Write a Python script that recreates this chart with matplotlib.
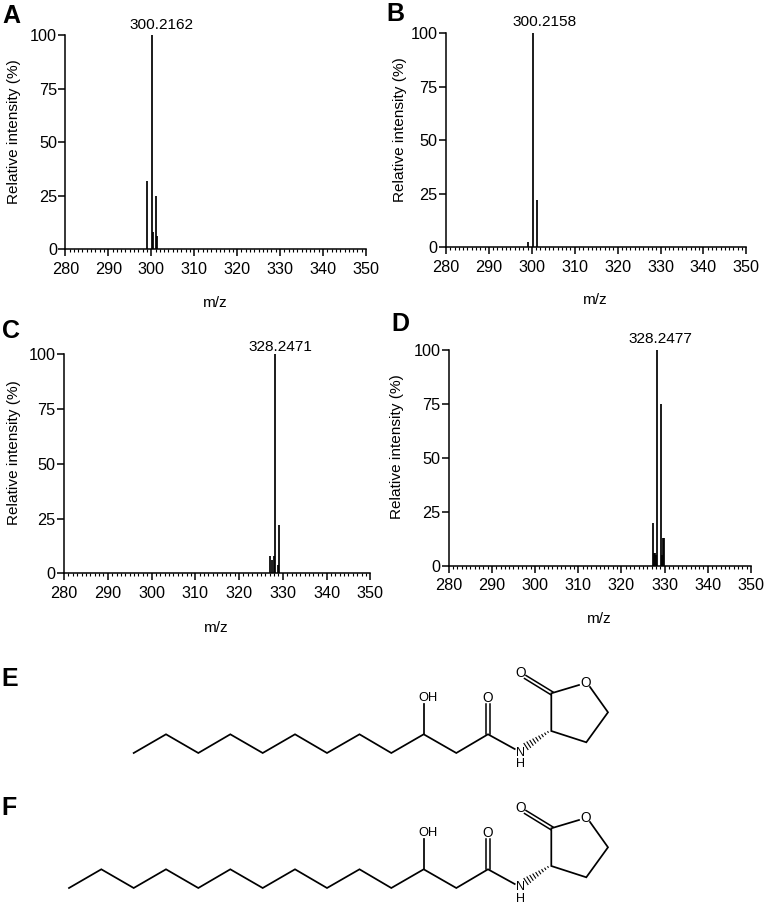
import matplotlib
matplotlib.use('Agg')
import matplotlib.pyplot as plt

plt.rcParams['font.family'] = ['Liberation Sans', 'DejaVu Sans']

W, H = 766, 906

# m/z, relative intensity
mz_a = [299.1, 300.2, 300.5, 301.1, 301.3]
int_a = [32, 100, 8, 25, 6]
mz_b = [299.1, 300.2, 301.1]
int_b = [2.5, 100, 22]
mz_c = [327.1, 327.45, 328.0, 328.3, 329.2, 329.0]
int_c = [8, 6, 8, 100, 22, 4]
mz_d = [327.2, 327.6, 327.85, 328.0, 328.25, 329.1, 329.35, 329.6, 329.8]
int_d = [20, 6, 6, 5, 100, 75, 5, 13, 13]

labels = ['300.2162', '300.2158', '328.2471', '328.2477']
panels = ['A', 'B', 'C', 'D']
x_ticks = [280, 290, 300, 310, 320, 330, 340, 350]
y_ticks = [0, 25, 50, 75, 100]

# axes frames in picture pixels: left, right, top (100), bottom (0)
boxes = [(65.3, 366, 35, 249.3), (446, 746.3, 33.3, 247.3),
         (64, 370.3, 354.3, 573.3), (448.7, 751, 350, 566)]
spectra = [(mz_a, int_a), (mz_b, int_b), (mz_c, int_c), (mz_d, int_d)]
panel_pos = [(2, 16), (386, 14), (2, 331), (391, 324)]
# peak label offset from the top of the peak, pixels
label_off = [(9.7, -10.2), (12, -11.6), (4.7, -7.6), (3.7, -11)]
ylabel_pos = [(14, 131.7), (400, 130), (14, 453), (397, 446.7)]
xlabel_pos = [(215, 302.7), (595.7, 300), (216.7, 628), (599, 619.3)]

fig = plt.figure(figsize=(W / 100, H / 100), dpi=100)

for box, (mz, inten), lab, off in zip(boxes, spectra, labels, label_off):
    l, r, t, b = box
    ax = fig.add_axes([l / W, 1 - b / H, (r - l) / W, (b - t) / H])
    ax.vlines(mz, 0, inten, color='black', lw=1.25)
    ax.set_xlim(280, 350)
    ax.set_ylim(0, 100)
    ax.spines['top'].set_visible(False)
    ax.spines['right'].set_visible(False)
    ax.spines['left'].set_linewidth(1.1)
    ax.spines['bottom'].set_linewidth(1.1)
    ax.set_xticks(x_ticks)
    ax.set_yticks(y_ticks)
    ax.set_xticks(range(280, 351), minor=True)
    ax.tick_params(axis='both', which='major', labelsize=11.7, length=5, width=1.1)
    ax.tick_params(axis='x', which='major', pad=4)
    ax.tick_params(axis='y', which='major', pad=1)
    ax.tick_params(axis='x', which='minor', length=2.4, width=0.8)
    ax.annotate(lab, (mz[inten.index(100)], 100), xytext=(off[0] * 0.72, -off[1] * 0.72),
                textcoords='offset points', fontsize=11.1, ha='center', va='center',
                annotation_clip=False)

# overlay in pixel coordinates for panel letters and the two structures
ov = fig.add_axes([0, 0, 1, 1])
ov.set_xlim(0, W)
ov.set_ylim(H, 0)
ov.axis('off')
ov.patch.set_alpha(0)

for (px, py), p in zip(panel_pos, panels):
    ov.text(px, py, p, fontsize=18, fontweight='bold', ha='left', va='center')
ov.text(1, 679, 'E', fontsize=18, fontweight='bold', ha='left', va='center')
ov.text(1, 808, 'F', fontsize=18, fontweight='bold', ha='left', va='center')

for (px, py) in ylabel_pos:
    ov.text(px, py, 'Relative intensity (%)', fontsize=11.1, rotation=90, ha='center', va='center')
for (px, py) in xlabel_pos:
    ov.text(px, py, 'm/z', fontsize=11.1, ha='center', va='center')

chain_x_e = [133.7, 166, 198.3, 230.3, 262.7, 295, 327, 359.5, 391.3, 423.7, 456.3, 488, 514.7]
chain_x_f = [69, 101.3] + chain_x_e


def molecule(chain_x, dy):
    low, high = 753 + dy, 734.3 + dy
    ys = [(low if i % 2 == 0 else high) for i in range(len(chain_x))]
    ys[-1] = 749 + dy
    ov.plot(chain_x, ys, color='black', lw=1.25, solid_joinstyle='miter')
    # hydroxyl
    ov.plot([423.7, 423.7], [high, 704 + dy], color='black', lw=1.25)
    ov.text(428, 697.7 + dy, 'OH', fontsize=9.3, ha='center', va='center')
    # amide C=O
    ov.plot([486.3, 486.3], [high, 704 + dy], color='black', lw=1.1)
    ov.plot([489.7, 489.7], [high, 704 + dy], color='black', lw=1.1)
    ov.text(488, 697.7 + dy, 'O', fontsize=9.8, ha='center', va='center')
    ov.text(520.5, 752.5 + dy, 'N', fontsize=9, ha='center', va='center')
    ov.text(520.5, 764 + dy, 'H', fontsize=9, ha='center', va='center')
    # lactone ring
    ov.plot([579, 551.3, 551.3, 586.3, 608, 590],
            [685 + dy, 693.3 + dy, 731 + dy, 742.3 + dy, 712.3 + dy, 687 + dy],
            color='black', lw=1.25, solid_joinstyle='miter')
    ov.text(585.7, 682.7 + dy, 'O', fontsize=9.8, ha='center', va='center')
    # lactone C=O
    ov.plot([553, 526], [692 + dy, 675.5 + dy], color='black', lw=1.1)
    ov.plot([551, 524.5], [694.8 + dy, 678.5 + dy], color='black', lw=1.1)
    ov.text(520.3, 672.7 + dy, 'O', fontsize=9.8, ha='center', va='center')
    # hashed wedge N...C3
    n = 9
    for i in range(n):
        f = i / (n - 1)
        cx = 548 + (526 - 548) * f
        cy = 732 + (746.5 - 732) * f
        half = 0.4 + 3.2 * f
        ov.plot([cx - 0.55 * half, cx + 0.55 * half],
                [cy - 0.84 * half + dy, cy + 0.84 * half + dy],
                color='black', lw=0.8)


molecule(chain_x_e, 0)
molecule(chain_x_f, 135)

fig.savefig('out.png', dpi=100)
